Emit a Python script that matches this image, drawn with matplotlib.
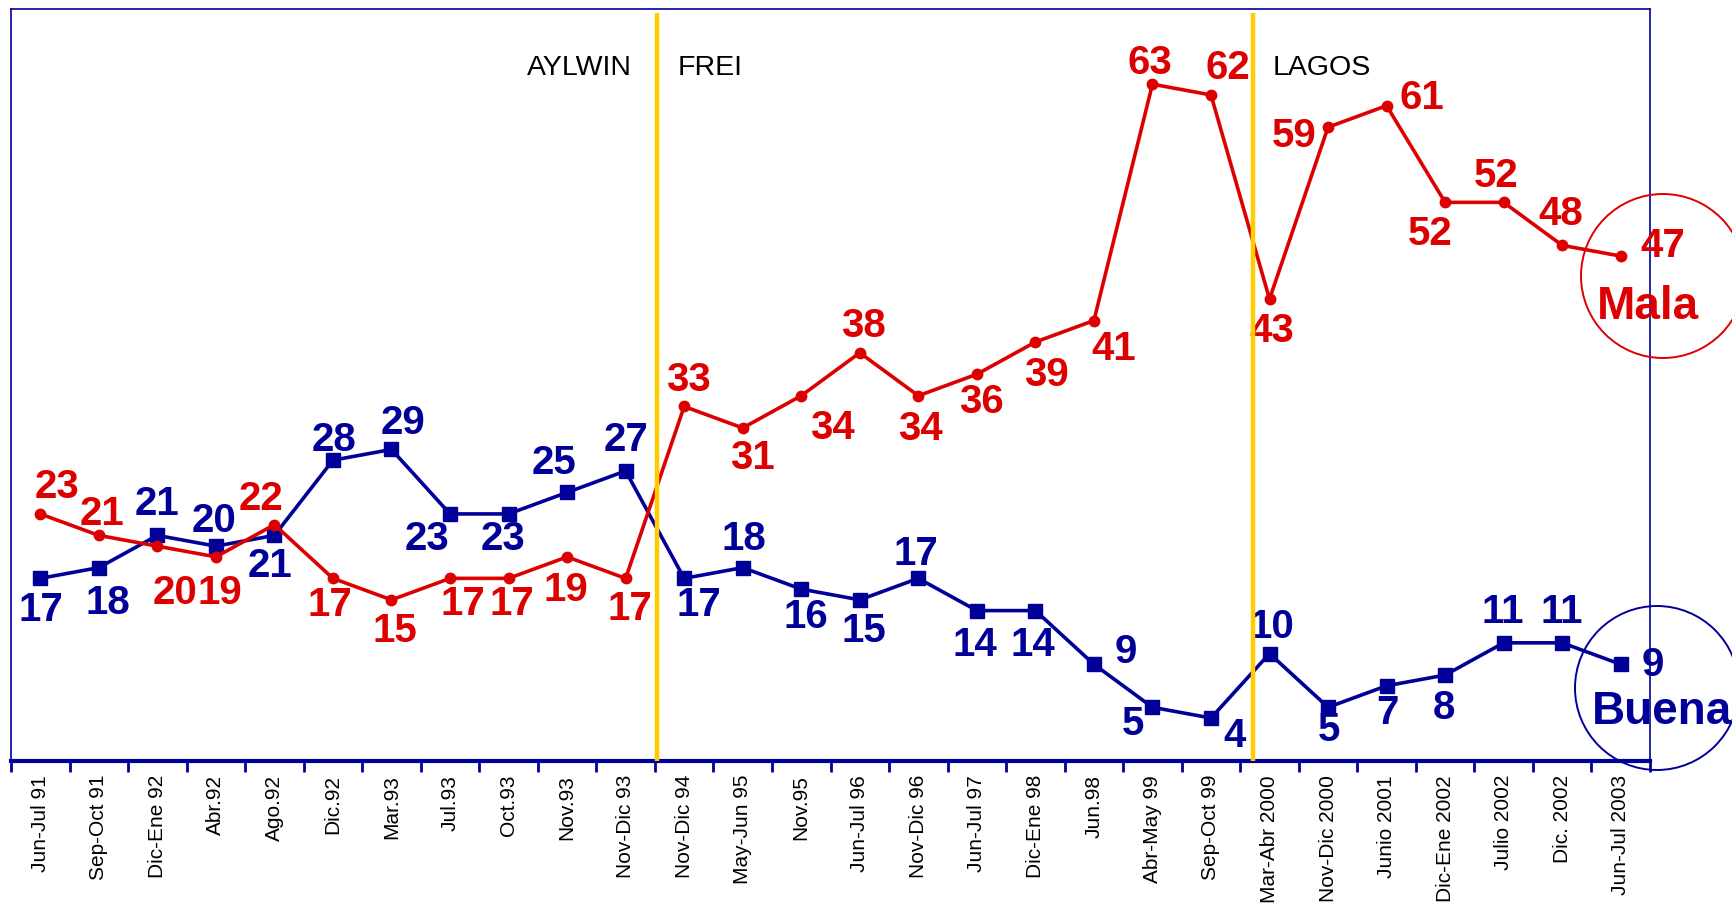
import numpy as np
import matplotlib
matplotlib.use("Agg")
from matplotlib import pyplot as plt
from matplotlib.patches import Ellipse

# Data
periods = ["Jun-Jul 91", "Sep-Oct 91", "Dic-Ene 92", "Abr.92", "Ago.92", "Dic.92",
           "Mar.93", "Jul.93", "Oct.93", "Nov.93", "Nov-Dic 93", "Nov-Dic 94",
           "May-Jun 95", "Nov.95", "Jun-Jul 96", "Nov-Dic 96", "Jun-Jul 97",
           "Dic-Ene 98", "Jun.98", "Abr-May 99", "Sep-Oct 99", "Mar-Abr 2000",
           "Nov-Dic 2000", "Junio 2001", "Dic-Ene 2002", "Julio 2002",
           "Dic. 2002", "Jun-Jul 2003"]
buena = [17, 18, 21, 20, 21, 28, 29, 23, 23, 25, 27, 17, 18, 16, 15, 17, 14,
         14, 9, 5, 4, 10, 5, 7, 8, 11, 11, 9]
mala = [23, 21, 20, 19, 22, 17, 15, 17, 17, 19, 17, 33, 31, 34, 38, 34, 36,
        39, 41, 63, 62, 43, 59, 61, 52, 52, 48, 47]
govt_names = ["AYLWIN", "FREI", "LAGOS"]
govt_changes = [10.54, 20.71]

# Label offsets (screen px at 1568 wide, dy up) - layout only
buena_off = [(1, -29), (8, -32), (0, 28), (-2, 23), (-4, -28), (1, 18), (10, 24),
             (-21, -23), (-5, -23), (-12, 27), (0, 28), (13, -24), (1, 26),
             (4, -25), (4, -28), (-2, 22), (-2, -31), (-2, -31), (29, 11),
             (-18, -15), (21, -16), (2, 24), (1, -21), (1, -25), (-1, -30),
             (-1, 28), (0, 28), (29, -1)]
mala_off = [(15, 24), (3, 19), (16, -42), (4, -33), (-12, 23), (-3, -24),
            (3, -28), (12, -23), (3, -23), (-1, -30), (4, -28), (4, 24),
            (9, -27), (28, -29), (3, 24), (2, -30), (4, -25), (10, -30),
            (18, -26), (-2, 19), (15, 24), (2, -29), (-31, -8), (32, 7),
            (-14, -29), (-7, 24), (-1, 28), (38, 9)]

NAVY = "#000099"
RED = "#DD0000"
GOLD = "#FFCC00"
FONT = ["Liberation Sans", "DejaVu Sans"]
W, H = 1732, 910

fig = plt.figure(figsize=(W / 100, H / 100), dpi=100)
ax = fig.add_axes([11 / W, 1 - 761 / H, (1650 - 11) / W, (761 - 9) / H])

x = np.arange(len(periods))
ax.plot(x, buena, color=NAVY, lw=2.6, marker="s", ms=10.5, zorder=3)
ax.plot(x, mala, color=RED, lw=2.6, marker="o", ms=7.5, zorder=3)

k = 0.795  # displayed px -> points
for xi, v, (dx, dy) in zip(x, buena, buena_off):
    ax.annotate(str(v), (xi, v), xytext=(dx * k, dy * k), textcoords="offset points",
                ha="center", va="center", fontsize=29, fontweight="bold",
                color=NAVY, family=FONT, zorder=4)
for xi, v, (dx, dy) in zip(x, mala, mala_off):
    ax.annotate(str(v), (xi, v), xytext=(dx * k, dy * k), textcoords="offset points",
                ha="center", va="center", fontsize=29, fontweight="bold",
                color=RED, family=FONT, zorder=4)

for xc in govt_changes:
    ax.plot([xc, xc], [0, 69.6], color=GOLD, lw=3.2, zorder=5, solid_capstyle="butt")

ax.text(10.1, 64.5, govt_names[0], ha="right", va="center", fontsize=20.5, family=FONT)
ax.text(10.88, 64.5, govt_names[1], ha="left", va="center", fontsize=20.5, family=FONT)
ax.text(21.05, 64.5, govt_names[2], ha="left", va="center", fontsize=20.5, family=FONT)

ax.set_xlim(-0.5, len(periods) - 0.5)
ax.set_ylim(0, 70)
ax.set_yticks([])
ax.set_xticks(x)
ax.set_xticklabels(periods, rotation=90, fontsize=15, family=FONT)
ax.tick_params(axis="x", which="major", length=0, pad=10)
ax.set_xticks(np.arange(-0.5, len(periods), 1), minor=True)
ax.tick_params(axis="x", which="minor", length=8, width=2, color=NAVY, direction="out")

for s in ["top", "left", "right"]:
    ax.spines[s].set_color(NAVY)
    ax.spines[s].set_linewidth(1.2)
ax.spines["bottom"].set_color(NAVY)
ax.spines["bottom"].set_linewidth(3)

# circled series names
fig.add_artist(Ellipse((1663 / W, 1 - 276 / H), 2 * 82 / W, 2 * 82 / H,
                       transform=fig.transFigure, fill=False, ec=RED, lw=1.4))
fig.add_artist(Ellipse((1657 / W, 1 - 688 / H), 2 * 82 / W, 2 * 82 / H,
                       transform=fig.transFigure, fill=False, ec=NAVY, lw=1.4))
fig.text(1648 / W, 1 - 307 / H, "Mala", ha="center", va="center", fontsize=33,
         fontweight="bold", color=RED, family=FONT)
fig.text(1662 / W, 1 - 712 / H, "Buena", ha="center", va="center", fontsize=33,
         fontweight="bold", color=NAVY, family=FONT)

fig.savefig("out.png", dpi=100)
